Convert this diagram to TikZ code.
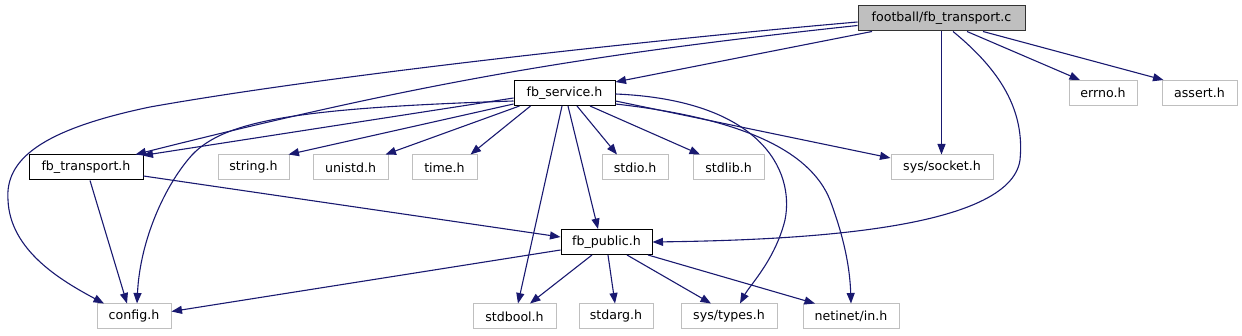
\documentclass[tikz,border=0pt]{standalone}
\usepackage{fontspec}
\setmainfont{DejaVu Sans}
\usetikzlibrary{arrows.meta}
\definecolor{edgeblue}{HTML}{191970}
\definecolor{extgray}{HTML}{BFBFBF}
\begin{document}
\begin{tikzpicture}[x=1pt,y=-1pt,
  font=\fontsize{12.6}{15}\selectfont,
  hdr/.style={draw=black,line width=1pt,fill=white,minimum height=25pt,inner sep=0pt},
  ext/.style={hdr,draw=extgray},
  srcfile/.style={hdr,fill=extgray,draw=black!80},
  arr/.style={-{Triangle[length=10.5pt,width=8pt]},line width=1.1pt,draw=edgeblue}]
\useasboundingbox (0,0) rectangle (1242,336);
\node[srcfile,minimum width=167pt] (main) at (941.5,18.5) {football/fb\_transport.c};
\node[hdr,minimum width=101pt] (fserv) at (564.5,93) {fb\_service.h};
\node[ext,minimum width=68pt] (errno) at (1103,93) {errno.h};
\node[ext,minimum width=75pt] (assert) at (1199.5,93) {assert.h};
\node[hdr,minimum width=114pt] (ftrans) at (86,167.5) {fb\_transport.h};
\node[ext,minimum width=71pt] (string) at (253.5,167.5) {string.h};
\node[ext,minimum width=75pt] (unistd) at (350.5,167.5) {unistd.h};
\node[ext,minimum width=65pt] (time) at (444.5,167.5) {time.h};
\node[ext,minimum width=66pt] (stdio) at (635,167.5) {stdio.h};
\node[ext,minimum width=71pt] (stdlib) at (728.5,167.5) {stdlib.h};
\node[ext,minimum width=102pt] (socket) at (942,167.5) {sys/socket.h};
\node[hdr,minimum width=91pt] (fpub) at (606.5,242) {fb\_public.h};
\node[ext,minimum width=74pt] (config) at (134,316.5) {config.h};
\node[ext,minimum width=83pt] (stdbool) at (514.5,316.5) {stdbool.h};
\node[ext,minimum width=74pt] (stdarg) at (616,316.5) {stdarg.h};
\node[ext,minimum width=96pt] (types) at (729,316.5) {sys/types.h};
\node[ext,minimum width=96pt] (netinet) at (851,316.5) {netinet/in.h};
\draw[arr] ([yshift=-3.5pt]main.west) .. controls (650,40) and (330,75) .. (150,107)
  .. controls (40,130) and (5,160) .. (8,200) .. controls (10,250) and (60,280) .. ([xshift=-30pt]config.north);
\draw[arr] ([yshift=-7pt]main.west) to[bend right=4] ([xshift=-8pt]ftrans.north east);
\draw[arr] ([xshift=-69.5pt]main.south) -- ([yshift=-2pt]fserv.north east);
\draw[arr] (main.south) -- (main.south |- socket.north);
\draw[arr] ([xshift=11.5pt]main.south) .. controls (1000,70) and (1025,110) .. (1020,160)
  .. controls (1010,230) and (800,240) .. (fpub.east);
\draw[arr] ([xshift=25.5pt]main.south) -- ([xshift=-23pt]errno.north);
\draw[arr] ([xshift=41.5pt]main.south) -- ([xshift=2pt]assert.north west);
\draw[arr] ([yshift=-5pt]fserv.west) -- ([xshift=-1pt,yshift=-1pt]ftrans.north east);
\draw[arr] ([yshift=-8pt]fserv.west) .. controls (300,108) and (225,120) .. (192,155)
  .. controls (165,185) and (140,240) .. ([xshift=3pt]config.north);
\draw[arr] ([yshift=2pt]fserv.south west) -- ([xshift=-1pt]string.north east);
\draw[arr] ([xshift=6pt]fserv.south west) -- ([xshift=-3pt]unistd.north east);
\draw[arr] ([xshift=17pt]fserv.south west) -- ([xshift=-7pt]time.north east);
\draw[arr] ([xshift=-2.5pt]fserv.south) -- ([xshift=3.5pt]stdbool.north);
\draw[arr] ([xshift=3.5pt]fserv.south) -- ([xshift=-8.5pt]fpub.north);
\draw[arr] ([xshift=12.5pt]fserv.south) -- ([xshift=-18pt]stdio.north);
\draw[arr] ([xshift=25.5pt]fserv.south) -- ([xshift=-28.5pt]stdlib.north);
\draw[arr] ([yshift=-8pt]fserv.east) -- ([yshift=9.5pt]socket.west);
\draw[arr] ([yshift=-1pt]fserv.east) .. controls (760,100) and (795,170) .. (785,220)
  .. controls (775,260) and (750,285) .. ([xshift=11pt]types.north);
\draw[arr] ([yshift=-11pt]fserv.east) .. controls (740,118) and (810,150) .. (830,200)
  .. controls (845,240) and (850,270) .. (netinet.north);
\draw[arr] ([xshift=4pt]ftrans.south) -- ([xshift=-7pt]config.north);
\draw[arr] ([yshift=-8.5pt]ftrans.east) -- ([yshift=5pt]fpub.west);
\draw[arr] ([yshift=-8pt]fpub.west) -- ([yshift=5pt]config.east);
\draw[arr] ([xshift=-14.5pt]fpub.south) -- ([xshift=15.5pt]stdbool.north);
\draw[arr] ([xshift=1.5pt]fpub.south) -- ([xshift=-1pt]stdarg.north);
\draw[arr] ([xshift=20.5pt]fpub.south) -- ([xshift=-18pt]types.north);
\draw[arr] ([xshift=41.5pt]fpub.south) -- ([xshift=-36pt]netinet.north);
\end{tikzpicture}
\end{document}
